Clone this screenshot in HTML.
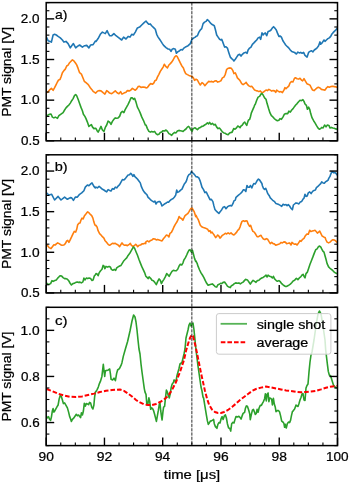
<!DOCTYPE html>
<html><head><meta charset="utf-8"><style>
html,body{margin:0;padding:0;background:#fff;}
svg{display:block;will-change:transform;font-family:"Liberation Sans",sans-serif;fill:#000;}
text{fill:#000;stroke:#000;stroke-width:0.22px;}
</style></head><body>
<svg width="350" height="484" viewBox="0 0 350 484">
<rect width="350" height="484" fill="#fff"/>
<defs>
<clipPath id="clipa"><rect x="46.2" y="2.6" width="291.3" height="138.20000000000002"/></clipPath>
<clipPath id="clipb"><rect x="46.2" y="154.8" width="291.3" height="138.09999999999997"/></clipPath>
<clipPath id="clipc"><rect x="46.2" y="307.3" width="291.3" height="138.3"/></clipPath>
</defs>
<polyline points="46.4,37.1 48.1,40.7 51.4,42.1 53.1,35.0 54.6,34.3 56.3,35.0 58.1,36.4 60.3,37.9 62.4,40.0 63.9,42.1 66.0,41.4 68.1,43.6 70.3,47.9 71.7,45.7 73.4,43.6 75.7,47.9 77.4,46.4 79.6,45.0 82.4,47.1 84.6,45.7 86.7,45.4 88.9,47.9 90.6,45.0 93.1,44.6 95.3,41.1 96.0,41.4 98.1,38.6 100.3,34.3 102.4,32.1 103.9,32.9 105.3,33.6 107.1,30.7 108.1,32.9 109.6,35.7 111.7,35.7 113.9,33.6 116.0,35.7 118.9,37.9 121.7,40.0 123.6,37.1 126.0,39.0 128.1,36.4 130.0,37.1 131.7,34.3 133.4,35.0 135.3,32.1 137.4,27.9 139.6,27.1 141.7,25.0 143.9,22.9 146.0,21.0 147.4,22.9 148.9,24.3 150.3,23.9 151.7,25.7 153.9,27.9 155.3,29.3 156.7,34.3 158.1,37.1 159.6,39.3 161.0,41.4 162.4,43.6 163.9,45.7 166.0,47.6 168.1,49.0 169.6,49.3 171.0,51.4 172.1,49.3 173.9,48.6 175.3,49.3 176.4,53.3 177.7,51.9 179.6,50.7 181.0,49.6 182.4,50.0 183.9,48.1 186.0,46.7 188.1,45.7 190.3,43.6 192.0,39.3 193.9,37.9 195.3,37.1 196.0,36.4 197.4,35.7 198.9,32.1 200.3,30.0 201.7,28.6 203.1,23.6 204.6,22.1 206.0,21.4 207.4,19.6 208.9,21.0 210.3,22.9 211.7,24.3 213.1,25.0 214.3,25.7 215.3,29.3 216.7,35.0 218.1,37.1 219.6,39.3 221.0,40.0 221.7,39.3 223.1,42.9 224.6,47.1 226.0,46.7 227.4,48.1 228.9,52.9 230.3,57.1 231.7,58.6 232.9,59.6 233.9,61.0 235.3,59.3 236.7,57.1 238.1,55.0 239.6,54.3 241.0,56.1 242.4,54.3 243.9,52.9 245.3,52.4 246.0,52.4 247.1,53.3 248.1,50.0 249.6,48.1 251.0,47.1 252.4,44.3 253.9,42.9 255.3,41.4 256.7,40.0 258.1,37.9 259.6,37.1 260.7,39.3 262.0,32.9 263.1,35.0 264.3,33.6 265.3,32.9 266.7,35.7 268.1,31.4 269.6,31.0 271.0,30.0 272.4,27.9 273.6,26.7 274.9,28.1 276.3,30.0 277.4,32.9 278.9,36.4 280.3,36.1 281.4,37.1 282.9,40.7 284.3,42.9 285.7,45.0 287.4,46.7 288.9,48.1 290.3,50.0 291.7,51.4 293.1,51.9 294.6,52.4 295.7,53.6 296.4,53.9 297.9,52.1 299.3,52.9 300.7,52.4 302.1,53.3 303.6,52.4 305.0,55.3 307.1,57.1 308.6,52.4 310.0,51.4 311.4,50.7 312.9,51.9 314.3,50.0 315.7,49.0 317.1,47.9 318.6,45.7 320.0,41.9 320.7,44.3 322.1,42.9 324.0,40.0 325.0,41.4 326.4,40.0 327.9,38.6 329.3,37.9 330.7,36.4 331.7,34.3 332.9,32.9 334.3,31.4 335.4,30.4 336.6,29.0 337.6,27.9" fill="none" stroke="#1f77b4" stroke-width="1.6" stroke-linejoin="round" stroke-linecap="butt" clip-path="url(#clipa)" />
<polyline points="46.4,93.0 46.4,92.7 48.1,91.7 49.6,89.9 51.4,88.4 53.1,90.3 54.6,87.7 56.0,84.9 57.4,82.0 58.6,79.9 60.0,79.4 61.0,77.0 62.4,72.7 63.9,70.6 65.3,69.1 66.7,66.0 68.1,65.1 69.6,62.7 71.0,61.3 72.4,59.9 73.9,60.9 75.3,62.7 76.7,64.9 78.1,68.4 79.6,72.7 81.4,74.1 82.9,77.7 84.3,81.3 86.0,82.7 87.7,84.1 88.9,85.6 90.3,87.7 91.7,89.4 93.1,91.3 94.6,92.3 95.7,93.1 96.0,92.7 97.4,91.3 98.9,90.6 101.0,90.9 103.1,92.7 104.9,94.1 106.7,90.6 108.1,91.7 109.6,93.1 111.7,93.7 113.1,92.7 115.3,90.9 117.1,92.7 118.9,93.7 120.6,91.7 122.0,94.1 123.9,93.1 126.0,92.3 127.4,90.6 129.6,90.9 131.0,89.9 132.4,88.4 133.9,89.4 135.3,90.3 136.7,88.9 138.1,86.6 139.6,86.3 141.0,87.4 143.1,87.0 145.3,87.4 146.0,87.9 147.4,87.4 148.9,85.4 150.6,83.6 152.4,84.3 153.9,82.9 154.9,80.7 156.3,80.0 157.4,77.1 158.9,74.3 160.3,71.4 161.7,69.3 163.1,67.1 164.3,64.3 165.7,66.4 167.4,67.9 168.9,65.0 170.3,63.6 171.7,62.1 173.1,60.0 174.6,57.1 176.0,55.7 177.1,56.4 178.6,59.3 180.3,62.9 181.7,65.7 183.4,67.9 184.6,71.4 185.7,73.6 187.4,74.6 188.9,75.4 190.6,76.0 192.0,76.4 193.4,77.9 194.6,80.3 195.7,79.3 196.0,79.3 197.4,80.0 198.9,82.9 200.3,85.0 202.0,82.6 203.4,83.6 204.9,85.7 206.7,83.6 208.6,81.4 210.3,81.7 211.7,81.4 213.1,82.1 214.6,81.1 216.0,80.7 217.7,82.1 219.6,81.4 221.0,80.7 222.4,77.9 223.9,77.1 225.3,74.3 226.7,69.3 228.1,68.3 229.6,67.9 231.4,68.3 232.9,70.7 233.9,73.6 235.3,72.9 236.3,75.0 237.4,77.9 238.9,79.3 240.3,81.1 241.7,83.6 243.1,84.6 244.6,83.6 245.7,82.9 246.0,82.3 247.4,84.4 248.9,85.9 250.3,86.6 251.7,86.3 253.1,88.0 254.6,90.1 256.0,90.6 257.4,90.9 258.9,91.6 260.3,90.9 261.7,92.6 263.1,92.3 264.6,91.1 266.0,90.1 267.4,90.6 268.9,89.4 270.3,90.1 271.7,91.1 273.1,90.6 274.6,90.9 275.7,92.3 276.7,90.1 278.1,91.1 279.6,92.0 281.0,91.6 282.4,92.6 283.9,90.1 284.9,87.7 286.0,88.7 287.4,87.3 288.9,85.9 290.0,83.0 291.4,81.6 292.9,82.0 294.3,78.7 295.4,77.7 297.1,78.7 298.6,79.1 300.0,78.3 301.4,80.1 302.6,80.9 304.0,78.7 305.4,81.1 306.9,83.7 308.6,84.4 310.0,85.1 311.4,88.0 312.6,90.1 314.0,90.6 315.4,89.4 316.9,88.0 318.3,87.3 320.0,88.0 321.4,89.4 323.1,89.7 325.0,90.1 326.4,88.0 327.9,86.6 329.3,87.3 330.7,86.6 332.6,86.3 334.3,86.6 336.0,86.9 337.4,87.3" fill="none" stroke="#ff7f0e" stroke-width="1.6" stroke-linejoin="round" stroke-linecap="butt" clip-path="url(#clipa)" />
<polyline points="46.4,115.4 46.4,115.4 48.1,115.0 49.6,114.3 51.0,114.0 52.4,117.1 53.9,117.9 55.3,117.1 56.7,117.9 57.4,118.3 58.9,115.7 60.3,114.6 61.7,113.6 63.1,112.6 64.6,110.0 66.0,107.9 67.4,106.4 68.9,105.0 70.3,103.1 71.7,100.7 73.1,98.6 74.6,95.4 75.7,94.6 76.7,95.7 78.1,99.3 79.6,103.6 81.0,107.4 82.4,110.7 83.4,114.3 84.9,116.4 86.0,118.6 87.4,122.1 88.9,126.4 90.3,125.4 91.4,124.6 92.4,126.9 93.9,128.6 95.3,128.3 96.0,128.6 97.1,130.7 98.1,132.1 99.6,129.3 101.0,126.4 102.4,130.0 103.9,131.4 105.3,127.4 106.7,125.0 108.1,121.1 109.6,122.1 111.0,124.3 112.4,121.4 113.9,119.3 115.3,117.9 116.7,118.3 118.1,117.9 119.6,116.4 121.0,112.6 122.4,111.4 123.9,112.6 125.3,109.3 126.7,106.9 128.1,104.3 129.6,101.1 131.0,97.9 132.4,97.9 133.4,99.3 134.6,98.3 136.0,102.1 137.4,107.1 138.9,110.0 140.3,113.1 141.7,116.9 143.4,120.3 145.3,125.0 146.0,125.0 147.4,128.6 148.9,131.4 150.3,132.1 151.7,131.4 153.1,131.9 154.6,131.4 156.0,133.6 157.4,134.7 158.9,134.3 160.3,132.4 161.7,131.9 163.1,130.7 164.6,131.0 166.0,130.0 167.4,131.4 168.9,133.6 170.3,134.3 171.7,135.3 173.1,133.6 174.6,132.4 176.0,132.9 177.4,131.0 178.9,130.4 180.3,130.7 181.7,131.0 183.1,131.4 184.6,130.0 186.0,129.0 187.4,127.1 188.6,126.4 189.6,127.6 191.0,130.0 192.0,131.4 193.1,128.6 194.6,127.9 195.7,128.1 196.0,128.6 197.4,129.6 198.9,128.1 200.3,127.6 201.7,126.4 203.1,126.1 204.6,125.0 206.0,124.3 207.4,122.9 208.6,123.9 209.6,122.4 211.0,124.3 212.4,123.3 213.9,125.0 215.3,124.3 216.7,127.1 218.1,128.6 219.6,128.1 221.0,130.0 222.4,131.9 223.9,132.9 225.3,133.3 226.7,134.3 228.1,134.7 229.6,132.9 231.0,132.4 232.0,132.4 233.7,128.6 235.0,129.2 236.3,128.1 237.8,126.0 238.9,126.6 240.1,127.7 241.0,126.0 242.3,125.1 243.6,123.0 244.7,122.0 245.7,123.9 246.7,125.4 247.6,122.6 248.5,120.0 249.6,119.6 250.4,117.0 251.3,113.1 252.6,110.1 253.9,107.1 254.7,105.0 255.3,104.3 256.7,100.3 258.1,97.1 259.6,96.4 261.0,94.0 262.0,93.6 263.1,95.0 264.6,97.9 266.0,99.3 267.1,103.6 268.6,108.6 270.0,112.9 271.4,115.7 272.9,116.9 274.3,118.6 276.0,120.0 277.4,120.7 278.9,120.3 280.0,118.6 281.4,119.3 282.9,117.1 284.3,114.3 286.0,113.6 287.7,113.6 288.9,111.1 290.3,112.1 291.7,110.0 293.1,108.6 294.6,106.4 295.7,105.0 297.1,103.6 298.6,101.7 300.0,100.3 301.4,100.7 302.9,99.7 304.0,101.4 305.0,104.0 306.4,105.4 307.4,109.3 308.6,107.1 309.7,109.3 310.7,113.6 312.1,117.9 313.6,120.7 315.0,122.9 316.4,125.4 317.9,127.9 319.3,129.3 320.7,128.6 321.7,127.4 323.1,127.9 324.6,125.0 326.0,126.9 327.4,125.0 328.9,125.4 330.0,127.9 331.4,127.4 332.9,127.9 334.3,128.3 335.7,128.9 337.4,129.3" fill="none" stroke="#2ca02c" stroke-width="1.6" stroke-linejoin="round" stroke-linecap="butt" clip-path="url(#clipa)" />
<polyline points="46.5,192.9 48.9,195.0 51.7,194.3 54.6,200.0 58.1,196.4 61.0,200.0 64.6,197.1 67.4,199.3 70.3,197.6 71.7,197.9 73.4,200.4 75.3,197.1 77.4,197.1 79.6,194.3 81.7,192.9 83.9,190.7 85.3,187.1 87.4,185.0 88.9,185.7 91.0,183.6 92.0,182.9 93.9,186.4 95.3,187.9 96.0,187.1 97.4,187.9 99.1,186.4 100.6,187.6 102.0,189.0 103.9,190.0 105.3,191.0 106.7,191.9 108.1,189.6 109.6,190.4 111.0,191.0 112.4,188.6 113.9,189.3 115.3,187.1 116.7,187.9 118.1,186.1 119.6,184.7 121.0,182.1 122.4,179.6 123.9,180.0 125.3,178.6 126.7,176.7 128.1,175.0 129.6,174.7 130.7,173.3 131.7,174.3 132.9,176.4 133.9,174.7 134.9,176.7 136.0,177.6 137.4,179.0 138.9,181.0 140.3,182.9 141.4,186.7 142.9,190.0 144.3,192.1 145.7,193.6 146.0,193.7 147.1,195.1 148.1,197.3 149.6,198.7 151.0,200.1 152.4,201.1 153.9,202.0 154.9,201.1 156.0,204.0 157.1,202.3 158.6,201.6 160.0,201.6 161.0,203.4 162.0,205.9 163.4,204.9 164.9,203.7 166.3,203.0 167.4,202.0 168.6,202.3 170.0,200.6 171.4,199.4 172.9,198.7 174.3,197.3 175.7,195.1 176.7,190.1 177.7,192.3 179.1,191.6 180.6,190.1 182.0,189.1 183.1,186.6 184.3,184.0 185.7,182.3 186.7,180.1 187.7,176.6 189.1,174.4 190.3,174.0 191.4,171.6 192.9,173.0 194.3,174.4 195.7,176.3 196.0,176.6 197.4,176.9 198.9,178.0 200.0,180.6 201.0,183.7 202.0,187.3 203.4,189.4 204.9,192.6 206.3,192.0 207.4,194.4 208.9,197.3 210.0,199.7 211.4,199.4 212.9,201.6 213.9,205.9 214.9,209.4 216.3,211.1 217.7,212.3 218.9,213.4 220.3,211.6 221.7,209.7 223.1,207.3 224.6,206.6 226.0,208.7 227.4,206.9 228.9,205.9 230.3,205.4 231.7,205.9 232.9,203.7 233.9,200.9 235.3,200.1 236.0,197.3 238.2,195.4 240.5,193.5 241.9,192.1 243.4,189.7 244.8,190.0 245.8,191.5 247.0,185.5 248.0,187.2 249.4,187.2 250.5,185.5 251.8,188.0 252.7,185.7 253.8,183.5 255.2,184.0 256.2,182.4 257.4,180.2 258.4,179.1 259.6,180.0 260.9,182.0 261.9,183.5 262.4,185.7 263.4,188.3 264.6,189.3 265.7,188.3 266.7,190.7 267.7,193.6 269.1,195.4 270.3,197.9 271.7,199.3 273.1,200.7 274.6,201.7 276.0,203.6 277.4,204.0 278.9,204.6 280.3,205.4 281.7,206.4 283.1,204.3 284.6,205.0 286.0,204.6 287.1,205.7 288.3,204.6 289.6,206.0 291.0,208.3 292.4,209.7 293.4,205.0 294.6,204.0 295.7,203.1 296.0,202.9 297.4,203.3 298.9,203.9 300.3,201.9 301.7,201.4 302.9,199.3 304.0,198.1 305.0,194.3 306.0,196.4 307.1,196.1 308.3,192.9 309.7,191.9 311.1,193.6 312.6,191.4 314.0,190.4 315.4,190.0 316.4,187.6 317.9,186.4 319.3,185.0 320.7,183.6 321.7,181.9 323.1,182.9 324.3,183.3 325.4,181.9 326.9,181.0 327.9,180.4 328.9,178.1 330.0,176.4 330.7,174.3 331.7,172.1 332.9,171.9 334.0,172.9 335.0,172.4 336.0,173.6 337.4,175.3" fill="none" stroke="#1f77b4" stroke-width="1.6" stroke-linejoin="round" stroke-linecap="butt" clip-path="url(#clipb)" />
<polyline points="46.4,244.3 46.4,244.3 47.7,245.7 49.1,247.6 51.0,248.6 52.4,246.7 53.9,244.7 55.3,245.0 56.3,243.9 57.7,242.9 59.1,243.6 60.6,244.7 62.0,245.3 63.9,245.0 65.3,243.6 66.7,241.0 67.7,240.4 68.9,242.4 70.3,239.6 71.7,236.7 73.1,233.6 74.3,231.4 75.7,232.1 76.7,229.3 77.7,224.7 78.9,223.3 80.0,222.9 81.0,220.0 82.0,218.1 83.1,219.0 84.3,216.1 85.7,214.3 86.7,212.9 87.7,211.9 89.1,212.9 90.6,214.7 91.7,215.7 92.9,218.1 93.9,222.1 94.9,225.0 95.7,225.7 96.0,225.3 97.1,227.1 98.1,230.7 99.6,233.6 101.0,235.0 102.4,236.7 103.9,238.1 104.9,240.4 106.3,242.1 108.1,244.3 109.6,245.3 111.0,244.3 112.4,243.3 113.9,243.6 115.3,243.3 116.7,244.3 118.1,245.0 119.6,246.7 120.6,245.0 122.0,242.9 123.1,244.3 124.6,245.3 126.0,245.0 127.4,245.7 128.9,244.7 130.3,243.3 131.4,245.3 132.9,246.4 134.3,245.7 135.7,244.3 136.7,245.3 137.7,246.7 139.1,245.3 140.6,245.0 142.0,243.9 143.4,243.9 144.6,243.3 145.7,243.6 146.0,241.6 147.4,240.9 148.9,241.9 150.6,240.4 152.0,239.9 153.4,238.7 154.9,239.0 156.3,239.9 157.7,239.4 159.1,239.9 160.6,240.4 162.0,240.9 163.4,238.7 164.9,237.0 166.3,235.1 167.7,235.6 168.9,237.0 170.0,233.3 171.4,232.3 172.9,229.4 173.9,227.0 175.3,224.4 176.7,222.3 178.1,219.4 179.1,216.6 180.3,218.0 181.4,218.4 182.9,220.1 183.9,218.0 184.9,215.9 186.3,214.7 187.7,213.7 188.9,211.9 190.0,209.9 191.0,208.4 192.0,208.0 193.1,209.9 194.3,211.9 195.7,216.6 196.0,215.3 197.1,217.6 198.1,219.3 199.1,221.9 200.3,225.3 201.7,226.7 203.4,227.6 204.9,228.1 206.3,228.6 207.7,229.3 208.9,231.4 210.0,230.7 211.0,232.9 212.0,232.1 213.1,233.6 214.3,235.3 215.7,237.6 216.7,236.4 217.7,235.0 218.9,236.1 220.0,238.1 221.0,237.1 222.4,235.3 223.9,234.3 225.3,233.3 226.7,233.9 228.1,232.9 229.6,233.9 231.0,232.9 232.4,234.3 233.9,235.0 235.3,233.6 236.7,232.1 237.7,230.4 238.9,229.3 240.0,227.1 241.0,223.9 242.0,221.4 243.4,220.7 244.6,221.4 245.7,221.0 246.0,220.7 247.1,221.0 248.1,223.9 249.6,226.4 250.6,225.3 251.7,228.6 252.9,231.4 254.3,232.1 255.7,234.3 257.1,236.7 258.6,236.7 260.0,235.7 261.0,235.3 262.0,237.1 263.4,239.0 264.9,239.6 266.3,238.6 267.7,239.3 268.9,241.4 270.3,243.6 271.7,242.4 273.1,243.6 274.3,243.9 275.7,245.3 277.1,244.7 278.6,244.3 280.0,243.6 281.0,242.4 282.4,242.9 283.9,241.9 285.3,242.1 286.7,243.6 288.1,243.3 289.6,242.9 291.0,245.0 292.0,242.4 293.4,243.6 294.6,244.3 295.7,243.9 297.1,245.0 298.6,242.9 300.0,240.7 301.1,241.4 302.6,239.3 304.0,238.3 305.4,235.7 306.9,234.0 308.3,234.3 309.7,230.3 310.7,231.4 312.1,231.1 313.6,230.7 315.0,230.3 316.4,231.7 317.4,233.1 318.6,232.1 319.7,231.1 320.7,233.1 322.1,236.0 323.6,236.9 325.0,237.4 326.0,240.0 327.1,242.1 328.6,242.9 330.0,242.1 331.4,240.7 332.9,239.7 334.3,240.0 335.4,240.7 337.4,242.6" fill="none" stroke="#ff7f0e" stroke-width="1.6" stroke-linejoin="round" stroke-linecap="butt" clip-path="url(#clipb)" />
<polyline points="46.4,282.9 46.4,282.9 47.7,284.3 49.1,284.3 50.6,283.6 52.0,280.7 53.4,281.4 54.9,280.4 56.3,280.0 57.7,278.1 59.1,276.7 60.3,275.7 61.7,276.1 63.1,277.6 64.6,278.6 66.0,278.6 67.4,279.3 68.9,281.0 70.3,283.6 71.4,285.0 72.9,283.6 74.3,283.3 75.7,282.4 77.1,281.9 78.6,282.4 80.0,282.1 81.4,282.9 82.9,281.9 83.9,278.1 84.9,280.0 86.3,278.1 87.7,278.6 89.1,278.1 90.6,278.6 92.0,280.4 93.1,280.0 94.3,276.1 95.4,274.7 96.0,273.6 97.1,274.0 98.1,275.7 99.1,272.9 100.6,270.7 102.0,269.3 103.1,265.4 103.9,266.0 104.9,268.6 106.0,266.4 107.4,267.1 109.1,266.4 110.3,266.9 111.4,269.3 112.9,270.3 114.3,269.3 115.7,270.3 116.7,267.9 118.1,266.9 119.6,266.0 121.0,265.4 122.4,263.1 123.9,260.7 125.3,259.3 126.7,257.9 128.1,255.4 129.6,253.6 131.0,251.1 132.4,248.6 133.4,246.9 134.6,248.3 136.0,251.7 137.4,255.0 138.9,259.3 140.3,262.9 141.7,266.4 143.1,269.3 144.6,272.6 145.7,275.7 146.0,276.4 147.1,277.4 148.1,278.6 149.1,276.9 150.6,278.3 152.0,280.3 153.4,280.7 154.9,282.6 156.3,284.6 157.7,281.4 159.1,278.9 160.3,280.3 161.4,283.6 162.4,281.7 163.9,279.3 165.3,276.9 166.7,273.6 168.1,275.0 169.1,276.4 170.6,273.6 172.0,271.4 173.4,270.3 174.9,270.7 176.3,270.7 177.7,269.3 179.1,266.0 180.3,264.3 181.7,265.0 182.9,263.1 183.9,260.0 185.3,257.9 186.7,255.0 187.7,252.6 188.9,250.3 190.0,249.7 191.4,252.1 192.4,250.3 193.4,254.0 194.6,258.6 195.7,261.4 196.0,261.0 197.1,263.3 198.1,266.4 199.6,270.0 201.0,272.9 202.4,275.0 203.9,277.6 205.3,280.7 206.7,283.3 208.1,285.3 209.6,284.7 211.0,284.3 212.4,283.9 213.9,285.3 215.3,286.7 216.7,287.1 217.7,285.0 219.1,284.3 220.6,283.3 221.7,283.6 223.1,282.4 224.6,282.1 226.0,283.9 227.4,286.1 228.9,287.1 230.3,287.6 231.4,285.7 232.9,285.0 234.3,283.6 235.7,282.9 237.4,283.3 238.9,282.9 240.3,283.9 241.7,282.9 243.1,282.1 244.6,280.4 245.7,279.3 246.0,279.4 247.4,279.9 248.9,282.0 250.3,284.1 251.7,282.0 253.1,280.3 254.6,281.3 256.0,282.3 257.4,280.6 258.9,280.3 260.3,278.9 261.7,278.0 263.1,277.4 264.6,276.3 266.0,275.1 267.1,277.0 268.1,275.1 269.6,276.3 271.0,276.6 272.4,278.0 273.4,276.3 274.6,278.9 276.0,280.3 277.4,281.3 278.9,280.6 280.3,281.7 281.7,283.7 283.1,284.9 284.6,286.0 286.0,286.6 287.4,286.0 288.9,285.1 290.3,284.1 291.7,282.7 293.1,280.9 294.6,280.3 295.7,278.9 296.4,278.3 297.9,279.7 299.3,277.9 300.7,276.9 302.1,275.0 303.1,274.3 304.3,276.9 305.0,277.9 306.0,273.6 307.4,272.1 308.6,268.6 310.0,264.3 311.4,260.7 312.9,256.9 314.3,253.1 315.7,249.7 317.1,248.9 318.3,246.9 319.3,246.0 320.7,246.9 321.7,248.9 322.9,251.1 324.0,252.1 325.0,255.7 326.0,259.3 327.1,263.6 328.6,266.9 330.0,268.3 331.4,269.3 332.9,270.7 334.3,272.1 335.7,273.1 337.4,273.7" fill="none" stroke="#2ca02c" stroke-width="1.6" stroke-linejoin="round" stroke-linecap="butt" clip-path="url(#clipb)" />
<polyline points="46.4,416.1 46.4,416.1 47.4,417.9 48.6,416.7 49.6,419.3 50.6,420.4 51.4,417.1 52.4,410.7 53.1,408.6 53.9,412.1 54.9,410.7 56.0,408.6 57.1,406.7 58.1,405.0 59.1,399.3 60.3,395.3 61.4,396.7 62.4,400.0 63.4,403.6 64.6,402.9 66.0,405.3 67.4,407.9 68.6,412.1 69.6,416.4 70.6,419.0 71.4,421.4 72.4,419.3 73.9,417.9 75.3,415.7 76.3,414.3 77.4,415.7 78.6,415.0 79.6,416.4 80.6,417.6 81.4,412.9 82.4,415.0 83.4,411.0 84.3,403.3 85.3,406.1 86.3,403.6 87.4,403.9 88.6,404.7 89.6,402.4 90.6,402.9 91.7,407.1 92.9,409.0 93.9,405.0 94.6,397.1 95.4,392.1 96.1,391.4 97.1,389.6 98.3,387.1 99.4,383.6 100.4,381.4 101.9,376.4 103.3,364.3 104.0,370.7 104.7,376.4 105.4,370.7 106.9,370.4 108.3,370.0 109.7,369.0 110.4,373.6 111.1,379.3 112.6,380.0 114.0,378.1 115.4,380.7 116.6,373.6 117.6,370.0 119.4,368.6 120.9,365.7 121.9,362.9 123.3,356.4 125.6,348.3 127.6,341.5 130.0,331.0 132.0,321.0 133.6,315.0 135.0,317.0 136.0,322.0 137.0,330.0 138.0,340.0 139.0,349.0 140.0,354.0 141.0,364.0 142.0,372.0 143.1,380.0 144.3,388.6 145.0,392.1 146.0,394.3 146.9,405.0 147.9,403.6 148.9,397.9 149.7,401.4 150.7,409.3 151.7,407.9 152.6,408.6 153.6,410.7 154.6,414.3 155.7,418.6 156.4,421.4 157.1,417.4 158.3,410.7 159.3,404.3 160.0,403.1 160.7,410.7 161.7,417.9 162.1,420.0 162.9,412.1 163.6,407.1 164.6,406.4 165.4,398.6 166.4,390.0 167.4,392.1 168.3,395.7 169.3,397.9 170.3,393.6 171.1,387.9 172.1,384.3 173.6,382.1 174.0,380.0 176.0,381.5 177.0,375.5 179.0,368.5 180.0,364.0 182.0,362.5 184.0,354.0 185.0,349.0 186.0,338.0 187.0,334.0 188.0,330.0 189.0,325.0 190.0,323.0 191.0,326.0 192.0,324.0 193.0,323.0 194.0,330.0 195.0,340.0 196.0,350.0 197.0,358.0 198.0,366.0 199.0,373.0 200.0,380.0 201.0,387.0 202.0,391.0 203.0,397.0 203.6,398.0 205.0,406.6 206.4,415.1 207.4,420.9 208.3,424.4 209.3,423.0 210.3,421.1 211.4,420.9 212.6,420.1 213.6,419.4 214.3,423.7 215.4,426.6 216.9,428.3 217.9,424.4 218.9,422.6 220.0,423.0 221.1,418.7 222.1,416.6 223.1,419.4 224.3,415.9 225.4,414.9 226.4,418.0 227.4,423.7 228.6,428.0 229.7,428.3 230.7,431.1 231.7,423.7 232.9,422.3 234.0,423.0 235.0,419.4 236.0,416.6 237.4,416.9 238.9,416.3 240.0,417.3 241.1,419.1 242.1,415.9 243.1,413.4 244.6,412.3 245.4,408.3 246.4,405.9 247.4,406.3 248.6,409.7 249.7,413.7 250.3,419.7 251.4,414.4 252.4,410.1 253.4,409.4 254.3,411.6 255.3,414.4 256.3,413.4 257.1,409.4 258.1,412.3 259.1,408.0 260.3,405.4 261.4,405.4 262.4,403.4 263.4,401.6 264.6,398.7 265.4,393.7 266.3,400.9 267.1,394.4 268.1,393.0 268.9,401.6 269.6,398.0 270.6,398.3 271.7,399.4 272.4,404.9 273.4,398.3 274.3,404.0 275.3,407.3 276.0,411.6 277.1,410.6 278.6,410.6 279.6,412.0 280.6,415.9 281.7,421.1 282.9,422.0 283.9,423.4 284.6,427.3 285.3,424.4 286.3,428.0 287.4,423.4 288.6,422.0 289.6,422.6 290.6,420.1 291.4,415.9 292.4,411.6 293.4,410.6 294.6,409.1 295.7,405.9 296.0,405.0 297.0,406.0 298.0,406.5 299.0,403.5 300.0,400.0 301.0,397.5 302.0,394.0 303.0,393.5 304.0,400.0 305.0,400.5 306.0,388.0 307.0,385.5 308.0,384.0 309.0,372.0 310.0,362.0 311.0,355.0 312.0,352.0 314.0,340.0 316.0,326.0 318.0,314.0 319.4,311.0 321.0,314.0 323.0,326.0 325.0,340.0 325.7,350.0 327.4,364.3 328.3,371.4 329.3,375.0 330.7,376.0 332.1,380.7 333.6,385.4 335.4,387.4 336.9,388.0" fill="none" stroke="#2ca02c" stroke-width="1.6" stroke-linejoin="round" stroke-linecap="butt" clip-path="url(#clipc)" />
<polyline points="46.5,389.0 52.0,391.0 58.0,393.6 64.0,395.5 70.0,396.8 76.0,397.0 82.0,396.4 88.0,395.0 94.0,393.6 100.0,392.0 106.0,390.8 112.0,390.0 116.0,389.8 120.0,389.6 124.0,390.8 128.0,393.5 132.0,396.5 136.0,400.0 140.0,402.4 144.0,404.4 148.0,405.0 152.0,405.0 156.0,404.0 160.0,402.0 164.0,399.6 168.0,396.0 172.0,390.0 176.0,382.0 180.0,372.0 184.0,360.0 186.0,351.0 188.0,344.0 190.0,338.0 191.6,335.0 193.0,336.0 195.0,344.0 197.0,353.0 199.0,363.0 201.0,373.0 203.0,382.0 205.0,391.0 207.0,398.5 209.0,404.5 212.0,409.5 215.0,412.0 218.0,413.0 221.0,413.0 224.0,412.0 228.0,410.0 232.0,407.0 236.0,403.6 240.0,400.0 244.0,397.0 248.0,394.0 252.0,391.0 256.0,389.0 261.0,387.6 266.0,386.6 271.0,387.4 276.0,388.4 281.0,389.4 286.0,390.4 291.0,391.0 296.0,391.8 301.0,392.2 306.0,392.0 311.0,391.6 316.0,390.8 321.0,389.4 326.0,387.8 330.0,386.8 337.0,386.0" fill="none" stroke="#ff0000" stroke-width="2" stroke-dasharray="4.6 2.0" clip-path="url(#clipc)"/>
<line x1="191.85" y1="2.6" x2="191.85" y2="445.6" stroke="#000" stroke-opacity="0.22" stroke-width="0.95"/>
<line x1="191.85" y1="2.6" x2="191.85" y2="445.6" stroke="#000" stroke-opacity="0.75" stroke-width="0.95" stroke-dasharray="2.9 1.4"/>
<rect x="216.4" y="313.6" width="114.49999999999997" height="40.599999999999966" rx="2.5" ry="2.5" fill="#fff" fill-opacity="0.8" stroke="#cccccc" stroke-width="1"/>
<line x1="220.6" y1="323.8" x2="247" y2="323.8" stroke="#2ca02c" stroke-opacity="0.8" stroke-width="1.8"/>
<line x1="220.8" y1="342.3" x2="247" y2="342.3" stroke="#ff0000" stroke-width="2" stroke-dasharray="4.6 2.0"/>
<line x1="46.2" y1="140.80" x2="54.2" y2="140.80" stroke="#000" stroke-width="1.4"/>
<line x1="329.5" y1="140.80" x2="337.5" y2="140.80" stroke="#000" stroke-width="1.4"/>
<line x1="46.2" y1="100.15" x2="54.2" y2="100.15" stroke="#000" stroke-width="1.4"/>
<line x1="329.5" y1="100.15" x2="337.5" y2="100.15" stroke="#000" stroke-width="1.4"/>
<line x1="46.2" y1="59.51" x2="54.2" y2="59.51" stroke="#000" stroke-width="1.4"/>
<line x1="329.5" y1="59.51" x2="337.5" y2="59.51" stroke="#000" stroke-width="1.4"/>
<line x1="46.2" y1="18.86" x2="54.2" y2="18.86" stroke="#000" stroke-width="1.4"/>
<line x1="329.5" y1="18.86" x2="337.5" y2="18.86" stroke="#000" stroke-width="1.4"/>
<line x1="46.2" y1="132.67" x2="49.400000000000006" y2="132.67" stroke="#000" stroke-width="1.1"/>
<line x1="334.3" y1="132.67" x2="337.5" y2="132.67" stroke="#000" stroke-width="1.1"/>
<line x1="46.2" y1="124.54" x2="49.400000000000006" y2="124.54" stroke="#000" stroke-width="1.1"/>
<line x1="334.3" y1="124.54" x2="337.5" y2="124.54" stroke="#000" stroke-width="1.1"/>
<line x1="46.2" y1="116.41" x2="49.400000000000006" y2="116.41" stroke="#000" stroke-width="1.1"/>
<line x1="334.3" y1="116.41" x2="337.5" y2="116.41" stroke="#000" stroke-width="1.1"/>
<line x1="46.2" y1="108.28" x2="49.400000000000006" y2="108.28" stroke="#000" stroke-width="1.1"/>
<line x1="334.3" y1="108.28" x2="337.5" y2="108.28" stroke="#000" stroke-width="1.1"/>
<line x1="46.2" y1="92.02" x2="49.400000000000006" y2="92.02" stroke="#000" stroke-width="1.1"/>
<line x1="334.3" y1="92.02" x2="337.5" y2="92.02" stroke="#000" stroke-width="1.1"/>
<line x1="46.2" y1="83.89" x2="49.400000000000006" y2="83.89" stroke="#000" stroke-width="1.1"/>
<line x1="334.3" y1="83.89" x2="337.5" y2="83.89" stroke="#000" stroke-width="1.1"/>
<line x1="46.2" y1="75.76" x2="49.400000000000006" y2="75.76" stroke="#000" stroke-width="1.1"/>
<line x1="334.3" y1="75.76" x2="337.5" y2="75.76" stroke="#000" stroke-width="1.1"/>
<line x1="46.2" y1="67.64" x2="49.400000000000006" y2="67.64" stroke="#000" stroke-width="1.1"/>
<line x1="334.3" y1="67.64" x2="337.5" y2="67.64" stroke="#000" stroke-width="1.1"/>
<line x1="46.2" y1="51.38" x2="49.400000000000006" y2="51.38" stroke="#000" stroke-width="1.1"/>
<line x1="334.3" y1="51.38" x2="337.5" y2="51.38" stroke="#000" stroke-width="1.1"/>
<line x1="46.2" y1="43.25" x2="49.400000000000006" y2="43.25" stroke="#000" stroke-width="1.1"/>
<line x1="334.3" y1="43.25" x2="337.5" y2="43.25" stroke="#000" stroke-width="1.1"/>
<line x1="46.2" y1="35.12" x2="49.400000000000006" y2="35.12" stroke="#000" stroke-width="1.1"/>
<line x1="334.3" y1="35.12" x2="337.5" y2="35.12" stroke="#000" stroke-width="1.1"/>
<line x1="46.2" y1="26.99" x2="49.400000000000006" y2="26.99" stroke="#000" stroke-width="1.1"/>
<line x1="334.3" y1="26.99" x2="337.5" y2="26.99" stroke="#000" stroke-width="1.1"/>
<line x1="46.2" y1="10.73" x2="49.400000000000006" y2="10.73" stroke="#000" stroke-width="1.1"/>
<line x1="334.3" y1="10.73" x2="337.5" y2="10.73" stroke="#000" stroke-width="1.1"/>
<line x1="46.2" y1="2.60" x2="49.400000000000006" y2="2.60" stroke="#000" stroke-width="1.1"/>
<line x1="334.3" y1="2.60" x2="337.5" y2="2.60" stroke="#000" stroke-width="1.1"/>
<line x1="46.20" y1="140.8" x2="46.20" y2="132.8" stroke="#000" stroke-width="1.4"/>
<line x1="60.77" y1="140.8" x2="60.77" y2="137.60000000000002" stroke="#000" stroke-width="1.1"/>
<line x1="75.33" y1="140.8" x2="75.33" y2="137.60000000000002" stroke="#000" stroke-width="1.1"/>
<line x1="89.90" y1="140.8" x2="89.90" y2="137.60000000000002" stroke="#000" stroke-width="1.1"/>
<line x1="104.46" y1="140.8" x2="104.46" y2="132.8" stroke="#000" stroke-width="1.4"/>
<line x1="119.03" y1="140.8" x2="119.03" y2="137.60000000000002" stroke="#000" stroke-width="1.1"/>
<line x1="133.59" y1="140.8" x2="133.59" y2="137.60000000000002" stroke="#000" stroke-width="1.1"/>
<line x1="148.16" y1="140.8" x2="148.16" y2="137.60000000000002" stroke="#000" stroke-width="1.1"/>
<line x1="162.72" y1="140.8" x2="162.72" y2="132.8" stroke="#000" stroke-width="1.4"/>
<line x1="177.29" y1="140.8" x2="177.29" y2="137.60000000000002" stroke="#000" stroke-width="1.1"/>
<line x1="191.85" y1="140.8" x2="191.85" y2="137.60000000000002" stroke="#000" stroke-width="1.1"/>
<line x1="206.42" y1="140.8" x2="206.42" y2="137.60000000000002" stroke="#000" stroke-width="1.1"/>
<line x1="220.98" y1="140.8" x2="220.98" y2="132.8" stroke="#000" stroke-width="1.4"/>
<line x1="235.55" y1="140.8" x2="235.55" y2="137.60000000000002" stroke="#000" stroke-width="1.1"/>
<line x1="250.11" y1="140.8" x2="250.11" y2="137.60000000000002" stroke="#000" stroke-width="1.1"/>
<line x1="264.68" y1="140.8" x2="264.68" y2="137.60000000000002" stroke="#000" stroke-width="1.1"/>
<line x1="279.24" y1="140.8" x2="279.24" y2="132.8" stroke="#000" stroke-width="1.4"/>
<line x1="293.81" y1="140.8" x2="293.81" y2="137.60000000000002" stroke="#000" stroke-width="1.1"/>
<line x1="308.37" y1="140.8" x2="308.37" y2="137.60000000000002" stroke="#000" stroke-width="1.1"/>
<line x1="322.94" y1="140.8" x2="322.94" y2="137.60000000000002" stroke="#000" stroke-width="1.1"/>
<line x1="337.50" y1="140.8" x2="337.50" y2="132.8" stroke="#000" stroke-width="1.4"/>
<rect x="46.2" y="2.6" width="291.3" height="138.20000000000002" fill="none" stroke="#000" stroke-width="1.5"/>
<text transform="translate(20.96,145.05) scale(1.1196,1)" font-size="12.0">0.5</text>
<text transform="translate(20.47,104.40) scale(1.1458,1)" font-size="12.0">1.0</text>
<text transform="translate(20.46,63.76) scale(1.1503,1)" font-size="12.0">1.5</text>
<text transform="translate(20.83,23.11) scale(1.1239,1)" font-size="12.0">2.0</text>
<text transform="translate(10.70,116.81) rotate(-90) scale(1.1585,1)" font-size="12">PMT signal [V]</text>
<text transform="translate(55.04,18.50) scale(1.1210,1)" font-size="12.5">a)</text>
<line x1="46.2" y1="292.90" x2="54.2" y2="292.90" stroke="#000" stroke-width="1.4"/>
<line x1="329.5" y1="292.90" x2="337.5" y2="292.90" stroke="#000" stroke-width="1.4"/>
<line x1="46.2" y1="252.28" x2="54.2" y2="252.28" stroke="#000" stroke-width="1.4"/>
<line x1="329.5" y1="252.28" x2="337.5" y2="252.28" stroke="#000" stroke-width="1.4"/>
<line x1="46.2" y1="211.66" x2="54.2" y2="211.66" stroke="#000" stroke-width="1.4"/>
<line x1="329.5" y1="211.66" x2="337.5" y2="211.66" stroke="#000" stroke-width="1.4"/>
<line x1="46.2" y1="171.05" x2="54.2" y2="171.05" stroke="#000" stroke-width="1.4"/>
<line x1="329.5" y1="171.05" x2="337.5" y2="171.05" stroke="#000" stroke-width="1.4"/>
<line x1="46.2" y1="284.78" x2="49.400000000000006" y2="284.78" stroke="#000" stroke-width="1.1"/>
<line x1="334.3" y1="284.78" x2="337.5" y2="284.78" stroke="#000" stroke-width="1.1"/>
<line x1="46.2" y1="276.65" x2="49.400000000000006" y2="276.65" stroke="#000" stroke-width="1.1"/>
<line x1="334.3" y1="276.65" x2="337.5" y2="276.65" stroke="#000" stroke-width="1.1"/>
<line x1="46.2" y1="268.53" x2="49.400000000000006" y2="268.53" stroke="#000" stroke-width="1.1"/>
<line x1="334.3" y1="268.53" x2="337.5" y2="268.53" stroke="#000" stroke-width="1.1"/>
<line x1="46.2" y1="260.41" x2="49.400000000000006" y2="260.41" stroke="#000" stroke-width="1.1"/>
<line x1="334.3" y1="260.41" x2="337.5" y2="260.41" stroke="#000" stroke-width="1.1"/>
<line x1="46.2" y1="244.16" x2="49.400000000000006" y2="244.16" stroke="#000" stroke-width="1.1"/>
<line x1="334.3" y1="244.16" x2="337.5" y2="244.16" stroke="#000" stroke-width="1.1"/>
<line x1="46.2" y1="236.04" x2="49.400000000000006" y2="236.04" stroke="#000" stroke-width="1.1"/>
<line x1="334.3" y1="236.04" x2="337.5" y2="236.04" stroke="#000" stroke-width="1.1"/>
<line x1="46.2" y1="227.91" x2="49.400000000000006" y2="227.91" stroke="#000" stroke-width="1.1"/>
<line x1="334.3" y1="227.91" x2="337.5" y2="227.91" stroke="#000" stroke-width="1.1"/>
<line x1="46.2" y1="219.79" x2="49.400000000000006" y2="219.79" stroke="#000" stroke-width="1.1"/>
<line x1="334.3" y1="219.79" x2="337.5" y2="219.79" stroke="#000" stroke-width="1.1"/>
<line x1="46.2" y1="203.54" x2="49.400000000000006" y2="203.54" stroke="#000" stroke-width="1.1"/>
<line x1="334.3" y1="203.54" x2="337.5" y2="203.54" stroke="#000" stroke-width="1.1"/>
<line x1="46.2" y1="195.42" x2="49.400000000000006" y2="195.42" stroke="#000" stroke-width="1.1"/>
<line x1="334.3" y1="195.42" x2="337.5" y2="195.42" stroke="#000" stroke-width="1.1"/>
<line x1="46.2" y1="187.29" x2="49.400000000000006" y2="187.29" stroke="#000" stroke-width="1.1"/>
<line x1="334.3" y1="187.29" x2="337.5" y2="187.29" stroke="#000" stroke-width="1.1"/>
<line x1="46.2" y1="179.17" x2="49.400000000000006" y2="179.17" stroke="#000" stroke-width="1.1"/>
<line x1="334.3" y1="179.17" x2="337.5" y2="179.17" stroke="#000" stroke-width="1.1"/>
<line x1="46.2" y1="162.92" x2="49.400000000000006" y2="162.92" stroke="#000" stroke-width="1.1"/>
<line x1="334.3" y1="162.92" x2="337.5" y2="162.92" stroke="#000" stroke-width="1.1"/>
<line x1="46.2" y1="154.80" x2="49.400000000000006" y2="154.80" stroke="#000" stroke-width="1.1"/>
<line x1="334.3" y1="154.80" x2="337.5" y2="154.80" stroke="#000" stroke-width="1.1"/>
<line x1="46.20" y1="292.9" x2="46.20" y2="284.9" stroke="#000" stroke-width="1.4"/>
<line x1="60.77" y1="292.9" x2="60.77" y2="289.7" stroke="#000" stroke-width="1.1"/>
<line x1="75.33" y1="292.9" x2="75.33" y2="289.7" stroke="#000" stroke-width="1.1"/>
<line x1="89.90" y1="292.9" x2="89.90" y2="289.7" stroke="#000" stroke-width="1.1"/>
<line x1="104.46" y1="292.9" x2="104.46" y2="284.9" stroke="#000" stroke-width="1.4"/>
<line x1="119.03" y1="292.9" x2="119.03" y2="289.7" stroke="#000" stroke-width="1.1"/>
<line x1="133.59" y1="292.9" x2="133.59" y2="289.7" stroke="#000" stroke-width="1.1"/>
<line x1="148.16" y1="292.9" x2="148.16" y2="289.7" stroke="#000" stroke-width="1.1"/>
<line x1="162.72" y1="292.9" x2="162.72" y2="284.9" stroke="#000" stroke-width="1.4"/>
<line x1="177.29" y1="292.9" x2="177.29" y2="289.7" stroke="#000" stroke-width="1.1"/>
<line x1="191.85" y1="292.9" x2="191.85" y2="289.7" stroke="#000" stroke-width="1.1"/>
<line x1="206.42" y1="292.9" x2="206.42" y2="289.7" stroke="#000" stroke-width="1.1"/>
<line x1="220.98" y1="292.9" x2="220.98" y2="284.9" stroke="#000" stroke-width="1.4"/>
<line x1="235.55" y1="292.9" x2="235.55" y2="289.7" stroke="#000" stroke-width="1.1"/>
<line x1="250.11" y1="292.9" x2="250.11" y2="289.7" stroke="#000" stroke-width="1.1"/>
<line x1="264.68" y1="292.9" x2="264.68" y2="289.7" stroke="#000" stroke-width="1.1"/>
<line x1="279.24" y1="292.9" x2="279.24" y2="284.9" stroke="#000" stroke-width="1.4"/>
<line x1="293.81" y1="292.9" x2="293.81" y2="289.7" stroke="#000" stroke-width="1.1"/>
<line x1="308.37" y1="292.9" x2="308.37" y2="289.7" stroke="#000" stroke-width="1.1"/>
<line x1="322.94" y1="292.9" x2="322.94" y2="289.7" stroke="#000" stroke-width="1.1"/>
<line x1="337.50" y1="292.9" x2="337.50" y2="284.9" stroke="#000" stroke-width="1.4"/>
<rect x="46.2" y="154.8" width="291.3" height="138.09999999999997" fill="none" stroke="#000" stroke-width="1.5"/>
<text transform="translate(20.96,297.15) scale(1.1196,1)" font-size="12.0">0.5</text>
<text transform="translate(20.47,256.53) scale(1.1458,1)" font-size="12.0">1.0</text>
<text transform="translate(20.46,215.91) scale(1.1503,1)" font-size="12.0">1.5</text>
<text transform="translate(20.83,175.30) scale(1.1239,1)" font-size="12.0">2.0</text>
<text transform="translate(10.70,268.96) rotate(-90) scale(1.1585,1)" font-size="12">PMT signal [V]</text>
<text transform="translate(54.66,171.00) scale(1.1579,1)" font-size="12.5">b)</text>
<line x1="46.2" y1="422.55" x2="54.2" y2="422.55" stroke="#000" stroke-width="1.4"/>
<line x1="329.5" y1="422.55" x2="337.5" y2="422.55" stroke="#000" stroke-width="1.4"/>
<line x1="46.2" y1="376.45" x2="54.2" y2="376.45" stroke="#000" stroke-width="1.4"/>
<line x1="329.5" y1="376.45" x2="337.5" y2="376.45" stroke="#000" stroke-width="1.4"/>
<line x1="46.2" y1="330.35" x2="54.2" y2="330.35" stroke="#000" stroke-width="1.4"/>
<line x1="329.5" y1="330.35" x2="337.5" y2="330.35" stroke="#000" stroke-width="1.4"/>
<line x1="46.2" y1="445.60" x2="49.400000000000006" y2="445.60" stroke="#000" stroke-width="1.1"/>
<line x1="334.3" y1="445.60" x2="337.5" y2="445.60" stroke="#000" stroke-width="1.1"/>
<line x1="46.2" y1="434.07" x2="49.400000000000006" y2="434.07" stroke="#000" stroke-width="1.1"/>
<line x1="334.3" y1="434.07" x2="337.5" y2="434.07" stroke="#000" stroke-width="1.1"/>
<line x1="46.2" y1="411.03" x2="49.400000000000006" y2="411.03" stroke="#000" stroke-width="1.1"/>
<line x1="334.3" y1="411.03" x2="337.5" y2="411.03" stroke="#000" stroke-width="1.1"/>
<line x1="46.2" y1="399.50" x2="49.400000000000006" y2="399.50" stroke="#000" stroke-width="1.1"/>
<line x1="334.3" y1="399.50" x2="337.5" y2="399.50" stroke="#000" stroke-width="1.1"/>
<line x1="46.2" y1="387.98" x2="49.400000000000006" y2="387.98" stroke="#000" stroke-width="1.1"/>
<line x1="334.3" y1="387.98" x2="337.5" y2="387.98" stroke="#000" stroke-width="1.1"/>
<line x1="46.2" y1="364.93" x2="49.400000000000006" y2="364.93" stroke="#000" stroke-width="1.1"/>
<line x1="334.3" y1="364.93" x2="337.5" y2="364.93" stroke="#000" stroke-width="1.1"/>
<line x1="46.2" y1="353.40" x2="49.400000000000006" y2="353.40" stroke="#000" stroke-width="1.1"/>
<line x1="334.3" y1="353.40" x2="337.5" y2="353.40" stroke="#000" stroke-width="1.1"/>
<line x1="46.2" y1="341.88" x2="49.400000000000006" y2="341.88" stroke="#000" stroke-width="1.1"/>
<line x1="334.3" y1="341.88" x2="337.5" y2="341.88" stroke="#000" stroke-width="1.1"/>
<line x1="46.2" y1="318.83" x2="49.400000000000006" y2="318.83" stroke="#000" stroke-width="1.1"/>
<line x1="334.3" y1="318.83" x2="337.5" y2="318.83" stroke="#000" stroke-width="1.1"/>
<line x1="46.2" y1="307.30" x2="49.400000000000006" y2="307.30" stroke="#000" stroke-width="1.1"/>
<line x1="334.3" y1="307.30" x2="337.5" y2="307.30" stroke="#000" stroke-width="1.1"/>
<line x1="46.20" y1="445.6" x2="46.20" y2="437.6" stroke="#000" stroke-width="1.4"/>
<line x1="60.77" y1="445.6" x2="60.77" y2="442.40000000000003" stroke="#000" stroke-width="1.1"/>
<line x1="75.33" y1="445.6" x2="75.33" y2="442.40000000000003" stroke="#000" stroke-width="1.1"/>
<line x1="89.90" y1="445.6" x2="89.90" y2="442.40000000000003" stroke="#000" stroke-width="1.1"/>
<line x1="104.46" y1="445.6" x2="104.46" y2="437.6" stroke="#000" stroke-width="1.4"/>
<line x1="119.03" y1="445.6" x2="119.03" y2="442.40000000000003" stroke="#000" stroke-width="1.1"/>
<line x1="133.59" y1="445.6" x2="133.59" y2="442.40000000000003" stroke="#000" stroke-width="1.1"/>
<line x1="148.16" y1="445.6" x2="148.16" y2="442.40000000000003" stroke="#000" stroke-width="1.1"/>
<line x1="162.72" y1="445.6" x2="162.72" y2="437.6" stroke="#000" stroke-width="1.4"/>
<line x1="177.29" y1="445.6" x2="177.29" y2="442.40000000000003" stroke="#000" stroke-width="1.1"/>
<line x1="191.85" y1="445.6" x2="191.85" y2="442.40000000000003" stroke="#000" stroke-width="1.1"/>
<line x1="206.42" y1="445.6" x2="206.42" y2="442.40000000000003" stroke="#000" stroke-width="1.1"/>
<line x1="220.98" y1="445.6" x2="220.98" y2="437.6" stroke="#000" stroke-width="1.4"/>
<line x1="235.55" y1="445.6" x2="235.55" y2="442.40000000000003" stroke="#000" stroke-width="1.1"/>
<line x1="250.11" y1="445.6" x2="250.11" y2="442.40000000000003" stroke="#000" stroke-width="1.1"/>
<line x1="264.68" y1="445.6" x2="264.68" y2="442.40000000000003" stroke="#000" stroke-width="1.1"/>
<line x1="279.24" y1="445.6" x2="279.24" y2="437.6" stroke="#000" stroke-width="1.4"/>
<line x1="293.81" y1="445.6" x2="293.81" y2="442.40000000000003" stroke="#000" stroke-width="1.1"/>
<line x1="308.37" y1="445.6" x2="308.37" y2="442.40000000000003" stroke="#000" stroke-width="1.1"/>
<line x1="322.94" y1="445.6" x2="322.94" y2="442.40000000000003" stroke="#000" stroke-width="1.1"/>
<line x1="337.50" y1="445.6" x2="337.50" y2="437.6" stroke="#000" stroke-width="1.4"/>
<rect x="46.2" y="307.3" width="291.3" height="138.3" fill="none" stroke="#000" stroke-width="1.5"/>
<text transform="translate(20.96,426.80) scale(1.1196,1)" font-size="12.0">0.6</text>
<text transform="translate(20.96,380.70) scale(1.1196,1)" font-size="12.0">0.8</text>
<text transform="translate(20.47,334.60) scale(1.1458,1)" font-size="12.0">1.0</text>
<text transform="translate(10.70,421.56) rotate(-90) scale(1.1585,1)" font-size="12">PMT signal [V]</text>
<text transform="translate(55.00,325.10) scale(1.2055,1)" font-size="12.5">c)</text>
<text transform="translate(38.48,460.60) scale(1.1489,1)" font-size="12.0">90</text>
<text transform="translate(96.73,460.60) scale(1.1658,1)" font-size="12.0">92</text>
<text transform="translate(155.00,460.60) scale(1.1433,1)" font-size="12.0">94</text>
<text transform="translate(213.26,460.60) scale(1.1545,1)" font-size="12.0">96</text>
<text transform="translate(271.52,460.60) scale(1.1545,1)" font-size="12.0">98</text>
<text transform="translate(325.93,460.60) scale(1.1308,1)" font-size="12.0">100</text>
<text transform="translate(163.78,479.20) scale(1.2399,1)" font-size="12">time [μs]</text>
<text transform="translate(256.67,328.50) scale(1.1685,1)" font-size="12.3">single shot</text>
<text transform="translate(256.53,346.80) scale(1.1654,1)" font-size="12.3">average</text>
</svg>
</body></html>
